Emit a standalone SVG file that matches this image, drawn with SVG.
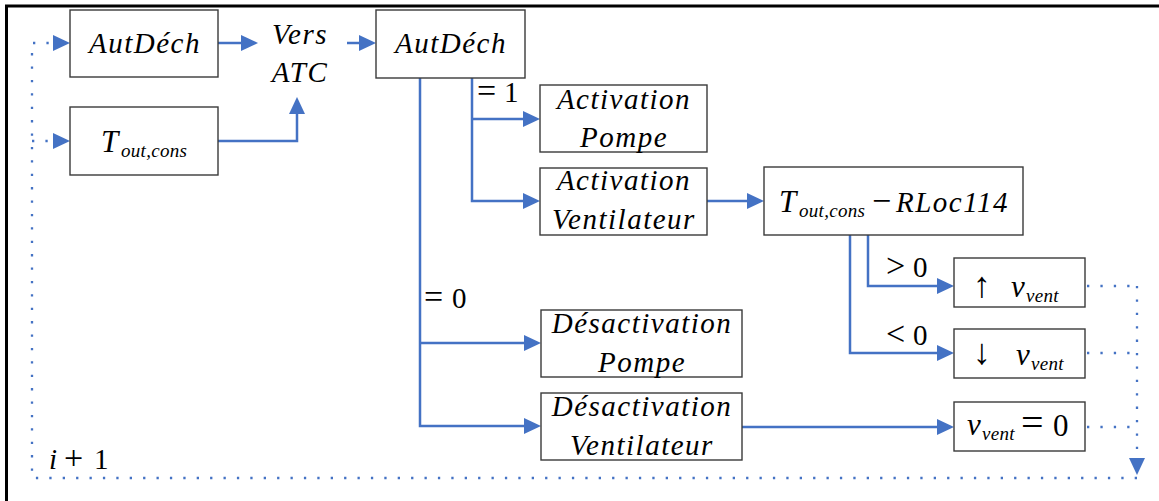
<svg xmlns="http://www.w3.org/2000/svg" width="1159" height="501" viewBox="0 0 1159 501">
  <style>
    .box { fill: #fff; stroke: #3a3a3a; stroke-width: 1.4; }
    .t { font-family: 'Liberation Serif', 'Times New Roman', serif; font-size: 29px; font-style: italic; letter-spacing: 1.5px; fill: #000; }
    .up { font-style: normal; letter-spacing: 0; }
    .op { font-size: 34px; }
    .big { font-size: 31px; letter-spacing: 0; }
    .sub { font-size: 19px; letter-spacing: 0.3px; }
    .ar { font-family: 'Liberation Serif', 'DejaVu Serif', serif; font-style: normal; font-size: 36px; fill: #000; }
    .wire { fill: none; stroke: #4472C4; stroke-width: 2.5; }
    .loop { fill: none; stroke: #4472C4; stroke-width: 2.3; stroke-dasharray: 2.3 11.1; }
  </style>
  <defs>
    <marker id="arr" markerUnits="userSpaceOnUse" markerWidth="18" markerHeight="18" refX="0" refY="8" orient="auto" overflow="visible">
      <path d="M0,0 L17,8 L0,16 Z" fill="#4472C4"/>
    </marker>
  </defs>

  <!-- frame -->
  <path d="M6.5,501 V6 H1159" fill="none" stroke="#000" stroke-width="3"/>

  <!-- connectors -->
  <g id="connectors">
    <path class="wire" d="M218,43 H241" marker-end="url(#arr)"/>
    <path class="wire" d="M218,141 H297 V114" marker-end="url(#arr)"/>
    <path class="wire" d="M347,43 H359" marker-end="url(#arr)"/>
    <path class="wire" d="M472,78 V201 H523" marker-end="url(#arr)"/>
    <path class="wire" d="M472,119 H523" marker-end="url(#arr)"/>
    <path class="wire" d="M420,78 V426 H524" marker-end="url(#arr)"/>
    <path class="wire" d="M420,343 H524" marker-end="url(#arr)"/>
    <path class="wire" d="M707,201 H747" marker-end="url(#arr)"/>
    <path class="wire" d="M868,235 V286 H937" marker-end="url(#arr)"/>
    <path class="wire" d="M850,235 V353 H937" marker-end="url(#arr)"/>
    <path class="wire" d="M742,427 H937" marker-end="url(#arr)"/>
    <!-- feedback loop -->
    <path class="loop" d="M1087,286 H1137"/>
    <path class="loop" d="M1087,353 H1137"/>
    <path class="loop" d="M1087,427 H1137"/>
    <path class="loop" d="M1137,286 V458" marker-end="url(#arr)"/>
    <path class="loop" d="M1137,478 H32 V43 H53" marker-end="url(#arr)"/>
    <path class="loop" d="M32,141 H53" marker-end="url(#arr)"/>
  </g>

  <!-- nodes -->
  <g id="autdech-1">
    <rect class="box" x="70" y="10" width="148" height="67"/>
    <text class="t" x="145" y="53" text-anchor="middle">AutDéch</text>
  </g>
  <g id="tout-cons">
    <rect class="box" x="70" y="107" width="148" height="68"/>
    <text class="t big" x="101" y="152">T<tspan class="sub" x="121" dy="5">out,cons</tspan></text>
  </g>
  <g id="vers-atc">
    <text class="t" x="300" y="44" text-anchor="middle">Vers</text>
    <text class="t" x="300" y="82" text-anchor="middle">ATC</text>
  </g>
  <g id="autdech-2">
    <rect class="box" x="376" y="10" width="149" height="68"/>
    <text class="t" x="451" y="53" text-anchor="middle">AutDéch</text>
  </g>
  <g id="activation-pompe">
    <rect class="box" x="540" y="85" width="167" height="67"/>
    <text class="t" x="624" y="109" text-anchor="middle">Activation</text>
    <text class="t" x="624" y="147" text-anchor="middle">Pompe</text>
  </g>
  <g id="activation-ventilateur">
    <rect class="box" x="540" y="168" width="167" height="67"/>
    <text class="t" x="624" y="190" text-anchor="middle">Activation</text>
    <text class="t" x="624" y="229" text-anchor="middle">Ventilateur</text>
  </g>
  <g id="tout-rloc">
    <rect class="box" x="764" y="167" width="259" height="68"/>
    <text class="t big" x="779" y="212">T<tspan class="sub" x="799" dy="5">out,cons</tspan></text>
    <text class="t up op" x="872" y="212">−</text>
    <text class="t" x="896" y="212">RLoc114</text>
  </g>
  <g id="v-up">
    <rect class="box" x="954" y="258" width="131" height="49"/>
    <text class="ar" x="973" y="297">↑</text>
    <text class="t big" x="1011" y="297">v<tspan class="sub" x="1026" dy="5">vent</tspan></text>
  </g>
  <g id="v-down">
    <rect class="box" x="954" y="329" width="131" height="49"/>
    <text class="ar" x="973" y="364">↓</text>
    <text class="t big" x="1016" y="365">v<tspan class="sub" x="1031" dy="5">vent</tspan></text>
  </g>
  <g id="desactivation-pompe">
    <rect class="box" x="541" y="310" width="201" height="67"/>
    <text class="t" x="642" y="333" text-anchor="middle">Désactivation</text>
    <text class="t" x="642" y="372" text-anchor="middle">Pompe</text>
  </g>
  <g id="desactivation-ventilateur">
    <rect class="box" x="541" y="393" width="201" height="67"/>
    <text class="t" x="642" y="416" text-anchor="middle">Désactivation</text>
    <text class="t" x="642" y="455" text-anchor="middle">Ventilateur</text>
  </g>
  <g id="v-zero">
    <rect class="box" x="954" y="402" width="131" height="49"/>
    <text class="t big" x="967" y="435">v<tspan class="sub" x="982" dy="5">vent</tspan></text>
    <text class="t up" x="1021" y="436" style="font-size:40px">=<tspan x="1053" style="font-size:31px">0</tspan></text>
  </g>

  <!-- branch labels -->
  <g id="labels">
    <text class="t up op" x="477" y="102">=<tspan x="504" font-size="29">1</tspan></text>
    <text class="t up op" x="424" y="308">=<tspan x="452" font-size="29">0</tspan></text>
    <text class="t up op" x="886" y="277">&gt;<tspan x="913" font-size="29">0</tspan></text>
    <text class="t up op" x="886" y="345">&lt;<tspan x="913" font-size="29">0</tspan></text>
    <text class="t" x="49" y="469">i<tspan class="up op" x="64">+</tspan><tspan class="up" x="94">1</tspan></text>
  </g>
</svg>
